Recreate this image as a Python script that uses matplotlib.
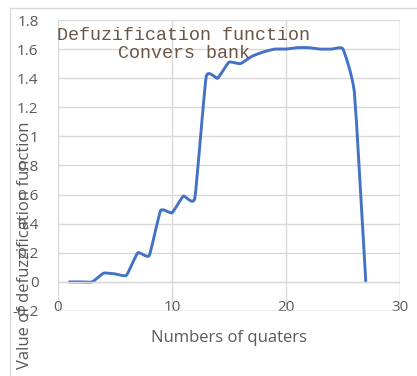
import matplotlib.pyplot as plt
from matplotlib.path import Path
from matplotlib.patches import PathPatch, Rectangle

# values
quarters = list(range(1, 28))
values = [0.0, 0.0, 0.0, 0.06, 0.055, 0.045, 0.2, 0.18, 0.49, 0.475,
          0.59, 0.575, 1.41, 1.4, 1.51, 1.5, 1.55, 1.58, 1.6, 1.6,
          1.61, 1.61, 1.6, 1.6, 1.6, 1.3, 0.0]
x_ticks = [0, 10, 20, 30]
y_ticks = [-0.2, 0, 0.2, 0.4, 0.6, 0.8, 1, 1.2, 1.4, 1.6, 1.8]
y_ticklabels = ["-0.2", "0", "0.2", "0.4", "0.6", "0.8", "1", "1.2", "1.4", "1.6", "1.8"]

grey = "#595959"
blue = "#4472c4"


def smooth_path(xs, ys, k=0.07):
    # smoothed line like excel, cubic bezier between the points
    verts = [(xs[0], ys[0])]
    codes = [Path.MOVETO]
    n = len(xs)
    for i in range(n - 1):
        x0, y0 = xs[max(i - 1, 0)], ys[max(i - 1, 0)]
        x1, y1 = xs[i], ys[i]
        x2, y2 = xs[i + 1], ys[i + 1]
        x3, y3 = xs[min(i + 2, n - 1)], ys[min(i + 2, n - 1)]
        c1 = (x1 + (x2 - x0) * k, y1 + (y2 - y0) * k)
        c2 = (x2 - (x3 - x1) * k, y2 - (y3 - y1) * k)
        verts += [c1, c2, (x2, y2)]
        codes += [Path.CURVE4] * 3
    return Path(verts, codes)


fig = plt.figure(figsize=(4.17, 3.76), dpi=100)
fig.patches.append(Rectangle((10 / 417, -0.1), 1.2, 1 - 8 / 376 + 0.1,
                             transform=fig.transFigure, fill=False,
                             edgecolor="#d9d9d9", linewidth=1))

ax = fig.add_axes([58 / 417, 1 - 311 / 376, 342 / 417, 291 / 376])
ax.set_xlim(0, 30)
ax.set_ylim(-0.2, 1.8)

ax.add_patch(PathPatch(smooth_path(quarters, values), fill=False,
                       edgecolor=blue, linewidth=2.1, capstyle="round",
                       joinstyle="round"))

ax.set_xticks(x_ticks)
ax.set_yticks(y_ticks)
ax.set_yticklabels(y_ticklabels)
ax.grid(True, color="#d9d9d9", linewidth=1)
ax.set_axisbelow(True)
for s in ax.spines.values():
    s.set_visible(False)
ax.axhline(-0.2, color="#d9d9d9", linewidth=1)
ax.axvline(30, color="#d9d9d9", linewidth=1)
ax.axhline(0, color="#d9d9d9", linewidth=1)

ax.tick_params(length=0, labelsize=11, labelcolor=grey)
ax.tick_params(axis="y", pad=14)
# x tick labels sit just under the zero line, like excel
ax.spines["bottom"].set_position(("data", 0))
ax.tick_params(axis="x", pad=13)
for lab in ax.get_xticklabels() + ax.get_yticklabels():
    lab.set_fontfamily("Open Sans")

ax.text(11.05, 1.75, "Defuzification function\nConvers bank",
        ha="center", va="top", multialignment="center",
        family="Liberation Mono", fontsize=13.2, color="#6b5545",
        linespacing=1.05)

fig.text(229 / 417, 1 - 338 / 376, "Numbers of quaters", ha="center",
         va="center", fontsize=12, color=grey, family="Open Sans")
fig.text(25 / 417, 1 - 245 / 376, "Value of defuzzification function",
         ha="center", va="center", rotation=90, fontsize=12, color=grey,
         family="Open Sans")

fig.savefig("out.png", dpi=100)
